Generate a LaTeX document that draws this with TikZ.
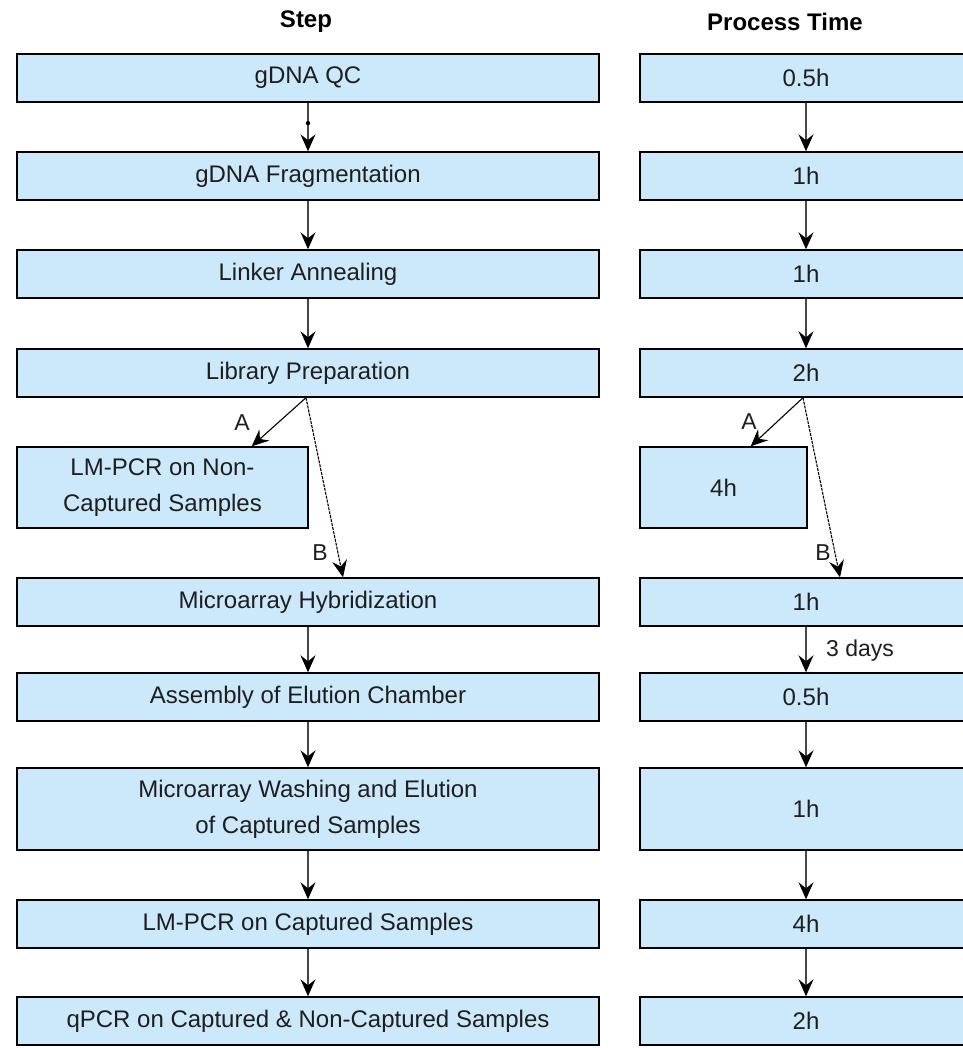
\documentclass[tikz,border=0pt]{standalone}
\usepackage{fontspec}
\setmainfont{Liberation Sans}
\usetikzlibrary{arrows.meta,calc}
\definecolor{boxfill}{RGB}{204,233,251}
\definecolor{linegrey}{RGB}{70,70,70}
\definecolor{txt}{RGB}{30,30,30}
\begin{document}
\begin{tikzpicture}[x=1bp,y=-1bp,
  every node/.style={text=txt,font=\fontsize{24bp}{36bp}\selectfont},
  stepbox/.style={draw=black,line width=1.4bp,fill=boxfill,inner sep=0pt,
    minimum width=582bp,minimum height=48bp,align=center},
  timebox/.style={stepbox,minimum width=332bp},
  tallbox/.style={minimum height=82bp},
  head/.style={font=\fontsize{24bp}{28bp}\selectfont\bfseries,text=black},
  flow/.style={draw=linegrey,line width=1.3bp,
    -{Stealth[length=17bp,width=15bp,inset=6bp,fill=black,color=black]}},
  branch/.style={flow,draw=black,line width=1.1bp},
  branchb/.style={flow,draw=black,line width=1.1bp,dash pattern=on 3bp off 1bp},
  tag/.style={font=\fontsize{23bp}{27bp}\selectfont,inner sep=0pt}]
\useasboundingbox (0,0) rectangle (963,1048);
\clip (0,0) rectangle (963,1048);

% column headings
\node[head] (hstep) at (306,22) {Step};
\node[head] (htime) at (785,22) {Process Time};

% left column: steps
\node[stepbox] (s1) at (308,78) {gDNA QC};
\node[stepbox] (s2) at (308,176) {gDNA Fragmentation};
\node[stepbox] (s3) at (308,274) {Linker Annealing};
\node[stepbox] (s4) at (308,373) {Library Preparation};
\node[stepbox,minimum width=291bp,minimum height=81bp] (s5) at (162.5,487.5)
  {LM-PCR on Non-\\Captured Samples};
\node[stepbox] (s6) at (308,602) {Microarray Hybridization};
\node[stepbox] (s7) at (308,697) {Assembly of Elution Chamber};
\node[stepbox,tallbox] (s8) at (308,809)
  {Microarray Washing and Elution\\of Captured Samples};
\node[stepbox] (s9) at (308,924) {LM-PCR on Captured Samples};
\node[stepbox] (s10) at (308,1021) {qPCR on Captured \& Non-Captured Samples};

% right column: process times
\node[timebox] (t1) at (806,78) {0.5h};
\node[timebox] (t2) at (806,176) {1h};
\node[timebox] (t3) at (806,274) {1h};
\node[timebox] (t4) at (806,373) {2h};
\node[timebox,minimum width=167bp,minimum height=81bp] (t5) at (723.5,487.5) {4h};
\node[timebox] (t6) at (806,602) {1h};
\node[timebox] (t7) at (806,697) {0.5h};
\node[timebox,tallbox] (t8) at (806,809) {1h};
\node[timebox] (t9) at (806,924) {4h};
\node[timebox] (t10) at (806,1021) {2h};

% straight flow arrows
\foreach \a/\b in {1/2,2/3,3/4,6/7,7/8,8/9,9/10}{
  \draw[flow] (s\a.south) -- (s\b.north);
  \draw[flow] (t\a.south) -- (t\b.north);
}
\fill[black] ($(s1.south)!0.42!(s2.north)$) circle (2.2bp);

% branches A and B out of library preparation
\coordinate (sa) at ($(s5.north east)+(-57,0)$);
\coordinate (sb) at ($(s6.north)+(35,0)$);
\coordinate (ta) at ($(t5.north east)+(-57,0)$);
\coordinate (tb) at ($(t6.north)+(34,0)$);
\draw[branch] ($(s4.south)+(-2,0)$) -- (sa);
\draw[branchb] ($(s4.south)+(-2,0)$) -- (sb);
\draw[branch] ($(t4.south)+(-3,0)$) -- (ta);
\draw[branchb] ($(t4.south)+(-3,0)$) -- (tb);
\node[tag] (la) at (242,423) {A};
\node[tag] (lb) at (320,553) {B};
\node[tag] (ra) at (749,422) {A};
\node[tag] (rb) at (823,553) {B};

% waiting time between hybridization and elution
\node[tag,anchor=west] (wait) at (826,651) {3 days};
\end{tikzpicture}
\end{document}
